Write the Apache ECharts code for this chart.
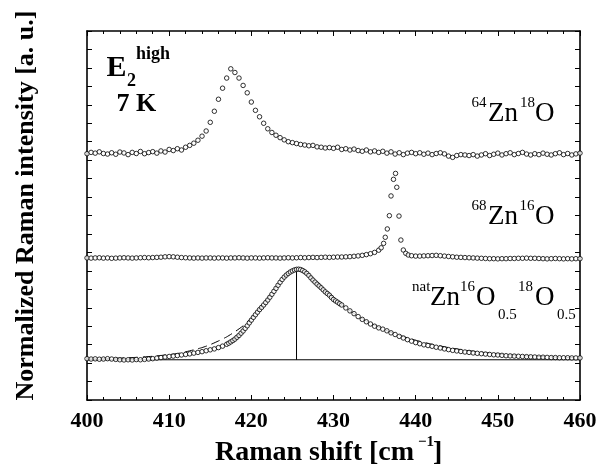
<!DOCTYPE html>
<html><head><meta charset="utf-8">
<script src="https://cdn.jsdelivr.net/npm/echarts@6/dist/echarts.min.js"></script>
<style>html,body{margin:0;padding:0;background:#fff}#c{width:602px;height:472px}</style>
</head><body><div id="c"></div>
<script>
// ---- data ----
const ramanShift = [400,400.5,401,401.5,402,402.5,403,403.5,404,404.5,405,405.5,406,406.5,407,407.5,408,408.5,409,409.5,
410,410.5,411,411.5,412,412.5,413,413.5,414,414.5,415,415.5,416,416.5,417,417.5,418,418.5,419,419.5,
420,420.5,421,421.5,422,422.5,423,423.5,424,424.5,425,425.5,426,426.5,427,427.5,428,428.5,429,429.5,
430,430.5,431,431.5,432,432.5,433,433.5,434,434.5,435,435.5,436,436.5,437,437.5,438,438.5,439,439.5,
440,440.5,441,441.5,442,442.5,443,443.5,444,444.5,445,445.5,446,446.5,447,447.5,448,448.5,449,449.5,
450,450.5,451,451.5,452,452.5,453,453.5,454,454.5,455,455.5,456,456.5,457,457.5,458,458.5,459,459.5,460];

const int64Zn18O = [13.35,13.42,13.38,13.45,13.36,13.33,13.40,13.32,13.44,13.39,13.30,13.42,13.36,13.47,13.35,13.41,13.46,13.38,13.50,13.44,
13.58,13.52,13.62,13.55,13.70,13.80,13.92,14.08,14.30,14.58,15.05,15.65,16.30,16.90,17.45,17.95,17.75,17.45,17.05,16.65,
16.15,15.70,15.35,15.00,14.70,14.50,14.35,14.22,14.10,14.00,13.95,13.90,13.85,13.82,13.78,13.80,13.72,13.70,13.66,13.68,
13.64,13.70,13.58,13.62,13.55,13.60,13.52,13.48,13.55,13.45,13.50,13.42,13.48,13.38,13.45,13.33,13.40,13.30,13.38,13.42,
13.35,13.40,13.32,13.38,13.30,13.36,13.40,13.34,13.22,13.15,13.25,13.30,13.28,13.25,13.30,13.22,13.28,13.35,13.25,13.32,
13.38,13.28,13.35,13.40,13.30,13.36,13.42,13.33,13.28,13.35,13.30,13.38,13.32,13.28,13.35,13.40,13.30,13.36,13.28,13.34,13.38];

const shift68Zn16O = [400,400.5,401,401.5,402,402.5,403,403.5,404,404.5,405,405.5,406,406.5,407,407.5,408,408.5,409,409.5,
410,410.5,411,411.5,412,412.5,413,413.5,414,414.5,415,415.5,416,416.5,417,417.5,418,418.5,419,419.5,
420,420.5,421,421.5,422,422.5,423,423.5,424,424.5,425,425.5,426,426.5,427,427.5,428,428.5,429,429.5,
430,430.5,431,431.5,432,432.5,433,433.5,434,434.5,435,435.5,
435.8,436.1,436.3,436.55,436.8,437.0,437.3,437.55,437.7,437.97,438.2,438.5,438.8,439.1,
439.5,440,440.5,441,441.5,442,442.5,443,443.5,444,444.5,445,445.5,446,446.5,447,447.5,448,448.5,449,
449.5,450,450.5,451,451.5,452,452.5,453,453.5,454,454.5,455,455.5,456,456.5,457,457.5,458,458.5,459,459.5,460];

const int68Zn16O = [7.70,7.69,7.70,7.71,7.69,7.70,7.68,7.69,7.70,7.71,
7.70,7.69,7.70,7.71,7.72,7.71,7.72,7.73,7.74,7.76,
7.77,7.76,7.74,7.72,7.71,7.70,7.69,7.70,7.69,7.70,
7.70,7.69,7.70,7.70,7.69,7.70,7.70,7.71,7.70,7.69,
7.70,7.70,7.69,7.70,7.71,7.70,7.70,7.69,7.70,7.71,
7.70,7.71,7.72,7.71,7.72,7.73,7.72,7.73,7.74,7.73,
7.74,7.75,7.75,7.76,7.77,7.79,7.81,7.84,7.88,7.93,
8.00,8.12,
8.25,8.49,8.82,9.27,9.99,11.06,11.96,12.28,11.53,9.97,8.67,8.13,7.95,7.86,
7.82,7.80,7.80,7.81,7.82,7.83,7.84,7.82,7.80,7.78,
7.76,7.74,7.73,7.72,7.71,7.70,7.69,7.68,7.67,7.66,
7.66,7.65,7.66,7.66,7.67,7.67,7.68,7.68,7.69,7.68,
7.68,7.67,7.66,7.65,7.66,7.67,7.66,7.65,7.66,7.65,7.66,7.66];

const shiftNat = [400,400.5,401,401.5,402,402.5,403,403.5,404,404.5,405,405.5,406,406.5,407,407.5,408,408.5,409,409.5,
410,410.5,411,411.5,412,412.5,413,413.5,414,414.5,415,415.5,416,416.5,
417,417.25,417.5,417.75,418,418.25,418.5,418.75,419,419.25,419.5,419.75,420,420.25,420.5,420.75,
421,421.25,421.5,421.75,422,422.25,422.5,422.75,423,423.25,423.5,423.75,424,424.25,424.5,424.75,
425,425.25,425.5,425.75,426,426.25,426.5,426.75,427,427.25,427.5,427.75,428,428.25,428.5,428.75,
429,429.25,429.5,429.75,430,430.25,430.5,430.75,431,
431.5,432,432.5,433,433.5,434,434.5,435,435.5,436,436.5,437,437.5,438,438.5,439,439.5,
440,440.5,441,441.5,442,442.5,443,443.5,444,444.5,445,445.5,446,446.5,447,447.5,448,448.5,449,449.5,
450,450.5,451,451.5,452,452.5,453,453.5,454,454.5,455,455.5,456,456.5,457,457.5,458,458.5,459,459.5,460];

const intNat = [2.24,2.22,2.23,2.21,2.22,2.24,2.22,2.20,2.18,2.17,2.18,2.17,2.19,2.18,2.20,2.22,2.24,2.27,2.30,2.33,
2.36,2.38,2.41,2.44,2.47,2.50,2.54,2.58,2.62,2.67,2.72,2.77,2.84,2.92,
3.02,3.08,3.15,3.22,3.30,3.40,3.50,3.62,3.74,3.88,4.02,4.18,4.33,4.48,4.62,4.76,
4.90,5.02,5.15,5.28,5.42,5.57,5.73,5.89,6.05,6.22,6.38,6.53,6.66,6.77,6.86,6.94,
7.00,7.05,7.08,7.09,7.07,7.02,6.95,6.86,6.75,6.62,6.50,6.39,6.28,6.18,6.08,5.97,
5.86,5.77,5.68,5.56,5.45,5.37,5.30,5.22,5.15,
4.99,4.83,4.68,4.52,4.37,4.24,4.12,4.00,3.91,3.84,3.75,3.64,3.55,3.45,3.36,3.27,3.19,
3.11,3.05,2.99,2.95,2.91,2.86,2.82,2.77,2.73,2.69,2.66,2.63,2.60,2.58,2.55,2.53,2.51,2.49,2.47,2.45,
2.44,2.42,2.40,2.39,2.38,2.37,2.36,2.35,2.34,2.33,2.32,2.32,2.31,2.30,2.30,2.29,2.29,2.29,2.28,2.28,2.28];

const shiftFit = [400,402,404,406,408,410,411,412,413,414,415,416,417,418,419,420,421,422,423,424,425,425.5,426,427,428,429,430,431,432,433,434,435,436,437,438,439,440,442,444,446,448,450,452,454,456,458,460];
const intFit = [2.22,2.24,2.27,2.31,2.37,2.46,2.52,2.61,2.72,2.84,3.00,3.20,3.42,3.70,4.02,4.45,4.95,5.52,6.12,6.65,7.00,7.06,7.03,6.80,6.42,5.99,5.57,5.18,4.84,4.54,4.28,4.05,3.85,3.67,3.51,3.37,3.24,3.02,2.84,2.70,2.59,2.50,2.43,2.38,2.34,2.31,2.29];

const natBaseline = 2.18;
const natPeakShift = 425.5;
const natPeakHeight = 7.08;

// ---- chart ----
const FONT = "'Liberation Serif','Times New Roman',serif";
function pairs(xs, ys) { return xs.map((x, i) => [x, ys[i]]); }
function txt(x, base, text, size, bold) {
  return {
    type: 'text', x: x, y: base - 0.34 * size, z: 100, silent: true,
    style: { text: text, font: (bold ? 'bold ' : '') + size + 'px ' + FONT, fill: '#000',
      align: 'left', textAlign: 'left', verticalAlign: 'middle', textVerticalAlign: 'middle' }
  };
}
const axisLine = { show: true, onZero: false, lineStyle: { color: '#000', width: 1.6 } };
const scatterStyle = { color: '#fff', borderColor: '#000', borderWidth: 1 };

const chart = echarts.init(document.getElementById('c'), null, { renderer: 'canvas' });
chart.setOption({
  animation: false,
  backgroundColor: '#fff',
  grid: { left: 87, top: 31, width: 493, height: 369, containLabel: false },
  xAxis: [
    { type: 'value', position: 'bottom', min: 400, max: 460, interval: 10,
      axisLine: axisLine,
      axisTick: { show: true, inside: true, length: 5, lineStyle: { color: '#000', width: 1 } },
      minorTick: { show: true, splitNumber: 5, length: 3, lineStyle: { color: '#000', width: 1 } },
      axisLabel: { show: true, margin: 10, color: '#000', fontFamily: FONT, fontWeight: 'bold', fontSize: 22 },
      splitLine: { show: false } },
    { type: 'value', position: 'top', min: 400, max: 460, interval: 10,
      axisLine: axisLine,
      axisTick: { show: true, inside: true, length: 5, lineStyle: { color: '#000', width: 1 } },
      minorTick: { show: true, splitNumber: 5, length: 3, lineStyle: { color: '#000', width: 1 } },
      axisLabel: { show: false }, splitLine: { show: false } }
  ],
  yAxis: [
    { type: 'value', position: 'left', min: 0, max: 20, interval: 1,
      axisLine: axisLine,
      axisTick: { show: true, inside: true, length: 5, lineStyle: { color: '#000', width: 1 } },
      axisLabel: { show: false }, splitLine: { show: false } },
    { type: 'value', position: 'right', min: 0, max: 20, interval: 1,
      axisLine: axisLine,
      axisTick: { show: true, inside: true, length: 5, lineStyle: { color: '#000', width: 1 } },
      axisLabel: { show: false }, splitLine: { show: false } }
  ],
  series: [
    { type: 'line', data: [[400, natBaseline], [460, natBaseline]], symbol: 'none', silent: true,
      lineStyle: { color: '#000', width: 1 }, z: 1 },
    { type: 'line', data: [[natPeakShift, natBaseline], [natPeakShift, natPeakHeight]], symbol: 'none', silent: true,
      lineStyle: { color: '#000', width: 1 }, z: 1 },
    { type: 'line', data: pairs(shiftFit, intFit), symbol: 'none', smooth: 0.2, silent: true,
      lineStyle: { color: '#000', width: 1, type: [9, 5] }, z: 2 },
    { type: 'scatter', data: pairs(ramanShift, int64Zn18O), symbol: 'circle', symbolSize: 4.5, itemStyle: scatterStyle, z: 3 },
    { type: 'scatter', data: pairs(shift68Zn16O, int68Zn16O), symbol: 'circle', symbolSize: 4.5, itemStyle: scatterStyle, z: 3 },
    { type: 'scatter', data: pairs(shiftNat, intNat), symbol: 'circle', symbolSize: 4.5, itemStyle: scatterStyle, z: 3 }
  ],
  graphic: [
    // E2 high, 7 K
    txt(106.5, 78, 'E', 30, true),
    txt(127, 87.5, '2', 18, true),
    txt(136, 60, 'high', 18, true),
    txt(116.5, 113, '7 K', 26, true),
    // 64Zn18O
    txt(471.5, 107.7, '64', 15, false),
    txt(488, 123, 'Zn', 27, false),
    txt(520, 107.7, '18', 15, false),
    txt(535, 123, 'O', 27, false),
    // 68Zn16O
    txt(471.5, 210.7, '68', 15, false),
    txt(488, 226.5, 'Zn', 27, false),
    txt(519.5, 210.7, '16', 15, false),
    txt(535, 226.5, 'O', 27, false),
    // natZn16O0.5 18O0.5
    txt(412, 292, 'nat', 15, false),
    txt(430, 306.7, 'Zn', 27, false),
    txt(460, 292, '16', 15, false),
    txt(476, 306.7, 'O', 27, false),
    txt(498, 320, '0.5', 15, false),
    txt(518, 292, '18', 15, false),
    txt(535, 306.7, 'O', 27, false),
    txt(557, 320, '0.5', 15, false),
    // x axis title
    txt(215, 462, 'Raman shift [cm', 28, true),
    txt(418, 447, '\u22121', 15, true),
    txt(433, 462, ']', 28, true),
    // y axis title
    { type: 'text', x: 26, y: 205.5, rotation: Math.PI / 2, z: 100, silent: true,
      style: { text: 'Normalized Raman intensity [a. u.]', font: 'bold 26px ' + FONT, fill: '#000',
        align: 'center', textAlign: 'center', verticalAlign: 'middle', textVerticalAlign: 'middle' } }
  ]
});
</script>
</body></html>
